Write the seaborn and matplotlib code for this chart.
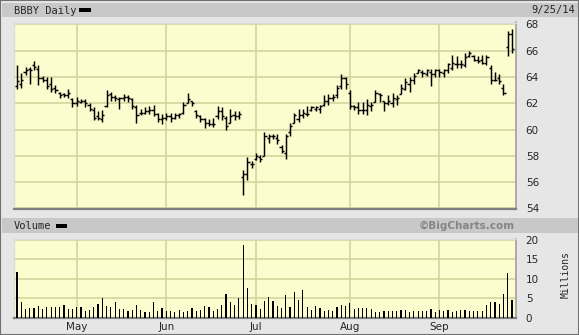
import numpy as np
import pandas as pd
import matplotlib
matplotlib.use("Agg")
import matplotlib.pyplot as plt
import seaborn as sns
from matplotlib.patches import Rectangle

# ---------------- data ----------------
holidays = ["2014-04-18", "2014-05-26", "2014-07-04", "2014-09-01"]
dates = pd.bdate_range("2014-04-10", "2014-09-25")
dates = dates[~dates.isin(pd.to_datetime(holidays))]

open_ = [63.3, 63.5, 64.4, 64.6, 64.9, 64.6, 63.9, 63.8, 63.5, 63.2,
         62.8, 62.7, 62.6, 62.3, 62.0, 62.1, 62.2, 61.9, 61.5, 61.0,
         60.8, 61.8, 62.7, 62.5, 62.3, 62.4, 62.5, 62.3, 61.7, 61.3,
         61.3, 61.4, 61.5, 61.2, 60.8, 60.9, 61.0, 60.9, 61.1, 61.3,
         62.0, 62.2, 61.4, 61.0, 60.8, 60.5, 60.4, 61.0, 61.4, 60.9,
         60.5, 61.1, 61.0, 56.4, 56.6, 57.4, 57.8, 57.9, 58.0, 59.4,
         59.5, 59.4, 58.7, 58.2, 59.8, 60.5, 60.8, 61.1, 61.2, 61.5,
         61.6, 61.6, 61.9, 62.2, 62.4, 62.6, 63.3, 63.9, 62.8, 61.8,
         61.7, 61.5, 61.5, 61.8, 62.1, 62.7, 62.2, 62.0, 62.0, 62.3,
         62.7, 63.1, 63.5, 63.8, 64.3, 64.4, 64.2, 64.4, 64.2, 64.5,
         64.3, 64.5, 64.7, 65.0, 65.0, 64.9, 65.6, 65.6, 65.3, 65.3,
         65.1, 64.7, 63.8, 63.9, 63.2, 66.3, 67.3]
high = [64.9, 64.3, 64.8, 64.8, 65.2, 64.9, 64.1, 64.0, 64.0, 63.4,
        62.9, 62.8, 63.1, 62.4, 62.5, 62.3, 62.3, 62.0, 61.7, 61.4,
        61.5, 63.0, 62.9, 62.6, 62.5, 62.7, 62.6, 62.4, 61.9, 61.6,
        61.7, 61.8, 61.9, 61.3, 61.2, 61.3, 61.3, 61.3, 61.3, 62.1,
        62.8, 62.2, 61.5, 61.1, 60.9, 60.8, 60.9, 61.8, 61.7, 61.0,
        61.6, 61.4, 61.4, 56.9, 57.9, 57.6, 58.2, 58.1, 59.8, 59.7,
        59.7, 59.7, 58.8, 59.7, 60.5, 61.3, 61.6, 61.6, 61.8, 61.8,
        61.8, 61.9, 62.6, 62.7, 62.7, 63.4, 64.2, 64.0, 63.0, 61.9,
        62.1, 62.1, 62.3, 62.1, 63.0, 62.8, 62.2, 62.6, 62.8, 62.6,
        63.5, 63.9, 64.0, 64.3, 64.6, 64.5, 64.6, 64.6, 64.6, 64.6,
        64.6, 65.1, 65.7, 65.6, 65.3, 65.8, 66.0, 65.7, 65.6, 65.7,
        65.7, 64.9, 64.4, 64.2, 63.5, 67.5, 67.65]
low = [63.1, 63.2, 64.15, 63.5, 64.5, 63.4, 63.6, 63.1, 62.9, 62.8,
       62.4, 62.5, 62.4, 61.7, 61.8, 62.0, 61.7, 61.4, 60.7, 60.7,
       60.6, 61.7, 62.2, 62.2, 61.6, 62.2, 62.1, 61.6, 60.5, 61.1,
       61.2, 61.2, 61.0, 60.6, 60.4, 60.7, 60.6, 60.8, 60.9, 61.2,
       62.0, 61.8, 60.9, 60.6, 60.1, 60.3, 60.2, 60.8, 60.7, 60.0,
       60.5, 60.7, 60.8, 55.0, 56.2, 57.1, 57.7, 57.5, 58.0, 59.0,
       59.3, 58.9, 58.2, 57.8, 59.5, 60.5, 60.6, 60.9, 61.0, 61.4,
       61.4, 61.3, 61.8, 61.9, 62.2, 62.4, 63.1, 63.1, 61.6, 61.5,
       61.2, 61.2, 61.1, 61.4, 62.1, 62.1, 61.4, 61.9, 61.7, 61.9,
       62.7, 63.0, 62.9, 63.5, 64.3, 64.0, 64.1, 63.3, 64.0, 64.0,
       64.0, 64.3, 64.5, 64.7, 64.7, 64.8, 65.5, 65.2, 65.1, 65.0,
       64.9, 63.5, 63.7, 63.5, 62.6, 65.6, 65.85]
close = [63.7, 63.8, 64.5, 64.5, 64.8, 63.9, 63.8, 63.3, 63.1, 63.0,
         62.6, 62.6, 62.8, 62.0, 62.2, 62.2, 62.0, 61.6, 60.9, 60.9,
         61.1, 62.6, 62.5, 62.4, 62.4, 62.5, 62.4, 61.8, 61.1, 61.3,
         61.4, 61.5, 61.2, 60.8, 60.9, 61.0, 60.9, 61.1, 61.2, 61.9,
         62.3, 62.0, 61.1, 60.8, 60.5, 60.4, 60.4, 61.4, 61.0, 60.3,
         61.0, 61.0, 61.2, 56.6, 57.5, 57.4, 58.0, 57.8, 59.5, 59.5,
         59.5, 59.2, 58.4, 59.5, 60.3, 61.1, 61.1, 61.3, 61.2, 61.7,
         61.7, 61.8, 62.2, 62.4, 62.5, 63.2, 63.9, 63.5, 61.8, 61.7,
         61.5, 61.5, 61.9, 61.9, 62.8, 62.6, 62.0, 62.2, 62.4, 62.4,
         63.2, 63.6, 63.8, 64.1, 64.5, 64.3, 64.5, 64.2, 64.5, 64.4,
         64.5, 65.0, 65.1, 65.0, 65.0, 65.5, 65.8, 65.3, 65.2, 65.1,
         65.5, 63.8, 63.8, 63.7, 62.8, 67.3, 66.1]
volume = [11.8, 4.05, 2.2, 2.4, 2.4, 3.0, 2.3, 2.6, 2.8, 2.6,
          2.6, 3.3, 2.3, 2.3, 2.6, 2.6, 1.6, 1.9, 2.6, 3.6,
          5.0, 3.0, 2.6, 4.05, 2.3, 2.2, 1.7, 1.9, 3.3, 1.9,
          1.3, 1.3, 4.05, 1.7, 2.4, 1.7, 1.7, 1.3, 1.9, 1.3,
          1.7, 2.4, 1.7, 1.9, 3.0, 2.8, 1.6, 2.2, 3.3, 6.0,
          4.1, 3.3, 5.0, 18.8, 7.6, 3.4, 3.3, 2.3, 4.3, 5.3,
          4.3, 3.0, 2.4, 5.8, 2.6, 6.6, 4.5, 7.2, 2.8, 1.9,
          3.0, 2.4, 1.6, 1.9, 1.7, 2.6, 3.3, 3.0, 3.8, 2.2,
          2.4, 2.4, 2.4, 2.2, 1.3, 1.3, 1.6, 1.7, 1.7, 1.6,
          1.9, 1.9, 1.3, 1.6, 1.6, 1.6, 1.6, 2.2, 1.3, 1.9,
          1.6, 1.9, 1.3, 1.6, 1.9, 1.9, 1.7, 1.7, 1.6, 1.6,
          3.3, 4.1, 4.1, 3.6, 6.2, 11.4, 4.5]

price_ticks = [54, 56, 58, 60, 62, 64, 66, 68]
vol_ticks = [0, 5, 10, 15, 20]
title = "BBBY Daily"
date_label = "9/25/14"

df = pd.DataFrame({"date": dates, "open": open_, "high": high, "low": low,
                   "close": close, "volume": volume})
df["pos"] = np.arange(len(df))
month_start = df.groupby(df["date"].dt.to_period("M"))["pos"].min().iloc[1:]
month_labels = [p.strftime("%b") for p in month_start.index]

# ---------------- style ----------------
sns.set_style("white")
plt.rcParams["font.family"] = ["DejaVu Sans"]

W, H = 579, 335
BG = "#e6e6e6"
BAND = "#c8c8c8"
FACE = "#fcfcce"
GRID = "#d2d29c"

fig = plt.figure(figsize=(W / 100, H / 100), dpi=100, facecolor=BG)


def fr(x0, y0, x1, y1):
    return [x0 / W, 1 - y1 / H, (x1 - x0) / W, (y1 - y0) / H]


def band(x0, y0, x1, y1, color):
    fig.add_artist(Rectangle((x0 / W, 1 - y1 / H), (x1 - x0) / W, (y1 - y0) / H,
                             transform=fig.transFigure, facecolor=color,
                             edgecolor="none", zorder=0))


band(2, 3, 579, 17, BAND)
band(2, 218, 579, 233, BAND)
fig.add_artist(Rectangle((0, 0), 1, 1, transform=fig.transFigure, fill=False,
                         edgecolor="#707070", lw=1.5, zorder=10))

mono = "DejaVu Sans Mono"
fig.text(14 / W, 1 - 10.5 / H, title, family=mono, fontsize=7.5, va="center", ha="left")
band(79, 8, 91, 11.5, "black")
fig.text(575 / W, 1 - 10.5 / H, date_label, family=mono, fontsize=7.5, va="center", ha="right")
fig.text(14 / W, 1 - 226 / H, "Volume", family=mono, fontsize=7.5, va="center", ha="left")
band(56, 224, 67, 227.5, "black")
fig.text(515 / W, 1 - 226 / H, "\u00a9BigCharts.com", fontsize=7.5, fontweight="bold",
         color="#858585", va="center", ha="right")
fig.text(566 / W, 1 - 275 / H, "Millions", family=mono, fontsize=7, rotation=90,
         va="center", ha="center")

xlim = (-0.7, len(df) - 1 + 0.94)

# ---------------- price panel ----------------
ax = fig.add_axes(fr(14, 22.5, 516, 208.5))
ax.set_facecolor(FACE)
ax.vlines(df["pos"], df["low"], df["high"], color="black", lw=1.05, zorder=3)
ax.hlines(df["open"], df["pos"] - 0.5, df["pos"], color="black", lw=1.05, zorder=3)
ax.hlines(df["close"], df["pos"], df["pos"] + 0.5, color="black", lw=1.05, zorder=3)
ax.set_xlim(*xlim)
ax.set_ylim(54, 68.15)
ax.set_yticks(price_ticks)
ax.set_xticks(month_start.values)
ax.set_xticklabels([])
ax.yaxis.tick_right()
ax.tick_params(axis="y", length=0, pad=7, labelsize=7.5)
ax.tick_params(axis="x", length=0)
ax.grid(True, color=GRID, lw=1.1, zorder=0)
ax.set_axisbelow(True)
for s in ["left", "top"]:
    ax.spines[s].set_color("#dcdcdc")
    ax.spines[s].set_linewidth(1)
ax.spines["right"].set_color("#a0a0a0")
ax.spines["right"].set_linewidth(1.2)
ax.spines["bottom"].set_color("#808080")
ax.spines["bottom"].set_linewidth(1.6)

# ---------------- volume panel ----------------
vax = fig.add_axes(fr(14, 239, 516, 317.5))
vax.set_facecolor(FACE)
sns.barplot(data=df, x="pos", y="volume", native_scale=True, width=0.28,
            color="black", linewidth=0, saturation=1, ax=vax, zorder=3)
vax.set_xlim(*xlim)
vax.set_ylim(0, 20.3)
vax.set_yticks(vol_ticks)
vax.set_xticks(month_start.values)
vax.set_xticklabels(month_labels)
vax.set_xlabel("")
vax.set_ylabel("")
vax.yaxis.tick_right()
vax.tick_params(axis="y", length=0, pad=7, labelsize=7.5)
vax.tick_params(axis="x", length=0, pad=3, labelsize=7.5)
vax.grid(True, color=GRID, lw=1.1, zorder=0)
vax.set_axisbelow(True)
for s in ["left", "top"]:
    vax.spines[s].set_color("#dcdcdc")
    vax.spines[s].set_linewidth(1)
vax.spines["right"].set_color("#a0a0a0")
vax.spines["right"].set_linewidth(1.2)
vax.spines["bottom"].set_color("#808080")
vax.spines["bottom"].set_linewidth(1.6)

fig.savefig("out.png", dpi=100, facecolor=BG)
